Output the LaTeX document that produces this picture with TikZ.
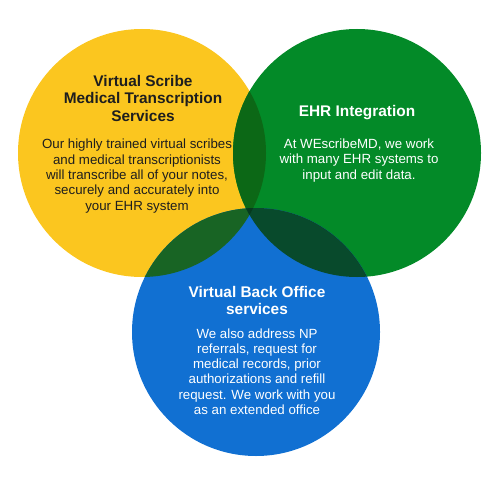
\documentclass[tikz,border=0pt]{standalone}
\usepackage{fontspec}
\setmainfont{Liberation Sans}
\usetikzlibrary{positioning}
\definecolor{scribeyellow}{RGB}{251,198,31}
\definecolor{ehrgreen}{RGB}{3,138,40}
\definecolor{officeblue}{RGB}{17,112,210}
\definecolor{yellowgreen}{RGB}{12,104,22}
\definecolor{yellowblue}{RGB}{24,100,36}
\definecolor{greenblue}{RGB}{8,74,44}
\definecolor{allthree}{RGB}{6,58,30}
\definecolor{darktext}{RGB}{30,30,30}
\tikzset{
    title/.style={align=center,font=\bfseries\fontsize{15.4}{17.5}\selectfont},
    body/.style={align=center,font=\fontsize{13.3}{15.3}\selectfont},
}

\begin{document}
\begin{tikzpicture}[x=1pt,y=1pt]
\useasboundingbox (0,0) rectangle (500,480);
\coordinate (cScribe) at (142,327);
\coordinate (cEhr) at (357,327);
\coordinate (cOffice) at (256,148);
\def\r{124}
% the three circles
\fill[scribeyellow] (cScribe) circle (\r);
\fill[ehrgreen] (cEhr) circle (\r);
\fill[officeblue] (cOffice) circle (\r);
% overlaps
\begin{scope}
  \clip (cScribe) circle (\r);
  \fill[yellowgreen] (cEhr) circle (\r);
  \fill[yellowblue] (cOffice) circle (\r);
\end{scope}
\begin{scope}
  \clip (cEhr) circle (\r);
  \fill[greenblue] (cOffice) circle (\r);
  \clip (cOffice) circle (\r);
  \fill[allthree] (cScribe) circle (\r);
\end{scope}
% texts
\node[title,text=darktext] (scribeTitle) at (143,382) {Virtual Scribe\\Medical Transcription\\Services};
\node[body,text=darktext] (scribeText) at (137,304) {Our highly trained virtual scribes\\and medical transcriptionists\\will transcribe all of your notes,\\securely and accurately into\\your EHR system};
\node[title,text=white] (ehrTitle) at (357,367) {EHR Integration};
\node[body,text=white] (ehrText) at (359,319.5) {At WEscribeMD, we work\\with many EHR systems to\\input and edit data.};
\node[title,text=white] (officeTitle) at (257,179.5) {Virtual Back Office\\services};
\node[body,text=white] (officeText) at (257,108.5) {We also address NP\\referrals, request for\\medical records, prior\\authorizations and refill\\request. We work with you\\as an extended office};
\end{tikzpicture}
\end{document}
